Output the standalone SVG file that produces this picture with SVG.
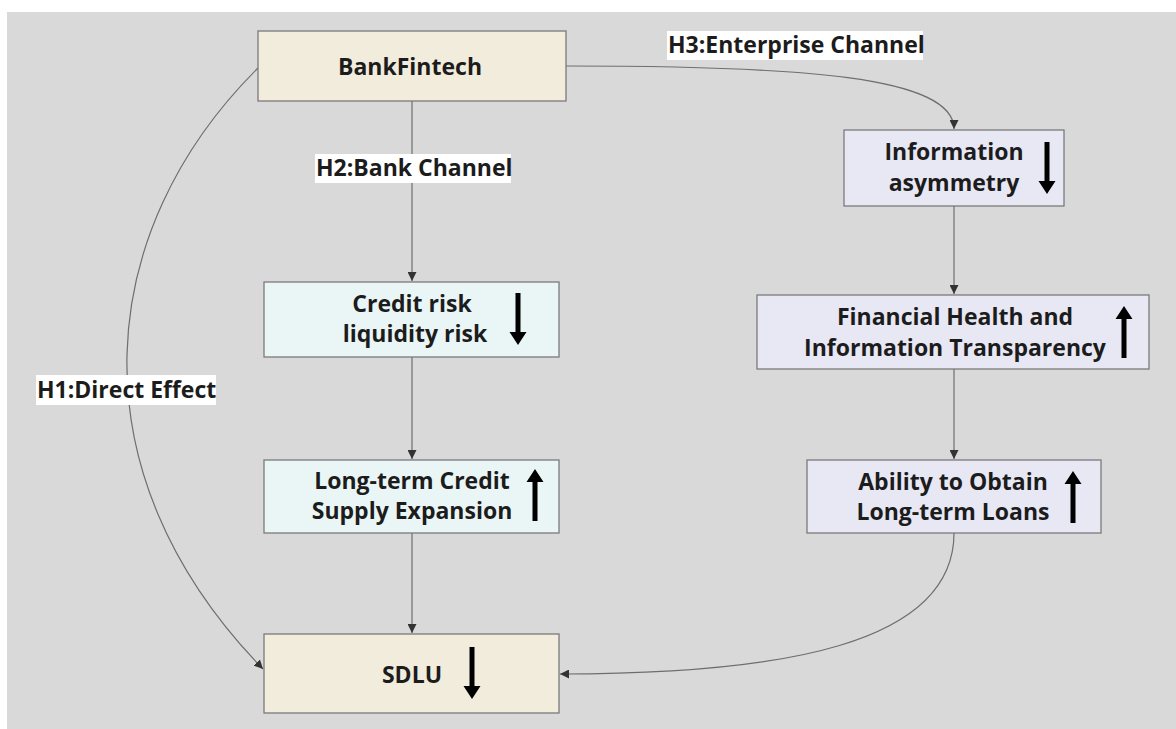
<svg xmlns="http://www.w3.org/2000/svg" width="1176" height="729" viewBox="0 0 1176 729">
  <style>
    .box { stroke: #7a7a7a; stroke-width: 1.3; }
    .beige { fill: #f2ecdc; }
    .cyan { fill: #eaf6f6; }
    .lav { fill: #e8e8f5; }
    .t { font-family: "Open Sans", "Noto Sans", "Liberation Sans", sans-serif; font-weight: 700; font-size: 23px; fill: #1c1c1c; text-anchor: middle; }
    .lbl { font-family: "Open Sans", "Noto Sans", "Liberation Sans", sans-serif; font-weight: 700; font-size: 23px; fill: #1c1c1c; }
    .edge { fill: none; stroke: #6e6e6e; stroke-width: 1.2; }
    .trend { fill: #000; }
  </style>
  <defs>
    <marker id="ah" viewBox="0 0 10 10" refX="10" refY="5" markerWidth="9" markerHeight="9" markerUnits="userSpaceOnUse" orient="auto">
      <path d="M0,0 L10,5 L0,10 z" fill="#333"/>
    </marker>
    <!-- thick trend arrows used inside the boxes -->
    <path id="down" d="M-2.5,-26 H2.5 V13 H8.5 L0,26 L-8.5,13 H-2.5 Z"/>
    <path id="up" d="M-2.5,26 H2.5 V-13 H8.5 L0,-26 L-8.5,-13 H-2.5 Z"/>
  </defs>

  <rect x="0" y="0" width="1176" height="729" fill="#ffffff"/>
  <rect x="7" y="12" width="1169" height="717" fill="#d9d9d9"/>

  <g id="connectors">
    <!-- H1 direct effect -->
    <path class="edge" d="M258,68 C95,230 70,470 263,669" marker-end="url(#ah)"/>
    <!-- H2 bank channel -->
    <path class="edge" d="M412,101 L412,281" marker-end="url(#ah)"/>
    <path class="edge" d="M412,357 L412,459" marker-end="url(#ah)"/>
    <path class="edge" d="M412,533 L412,633" marker-end="url(#ah)"/>
    <!-- H3 enterprise channel -->
    <path class="edge" d="M566,66 C800,66 954,76 954,129" marker-end="url(#ah)"/>
    <path class="edge" d="M954,206 L954,294" marker-end="url(#ah)"/>
    <path class="edge" d="M954,369 L954,459" marker-end="url(#ah)"/>
    <path class="edge" d="M954,533 C954,645 780,674 560,674" marker-end="url(#ah)"/>
  </g>

  <g id="label-h3">
    <rect x="667" y="31" width="256" height="29" fill="#fff"/>
    <text class="lbl" x="668" y="53">H3:Enterprise Channel</text>
  </g>
  <g id="label-h2">
    <rect x="315" y="154" width="196" height="29" fill="#fff"/>
    <text class="lbl" x="316" y="176">H2:Bank Channel</text>
  </g>
  <g id="label-h1">
    <rect x="36" y="375" width="180" height="30" fill="#fff"/>
    <text class="lbl" x="37" y="398">H1:Direct Effect</text>
  </g>

  <g id="bankfintech">
    <rect class="box beige" x="258" y="31" width="308" height="70"/>
    <text class="t" x="410" y="75">BankFintech</text>
  </g>

  <g id="credit-risk">
    <rect class="box cyan" x="264" y="282" width="295" height="75"/>
    <text class="t" x="412" y="312">Credit risk</text>
    <text class="t" x="415" y="342">liquidity risk</text>
    <use href="#down" class="trend" x="518" y="319"/>
  </g>

  <g id="credit-supply">
    <rect class="box cyan" x="264" y="460" width="295" height="73"/>
    <text class="t" x="412" y="489">Long-term Credit</text>
    <text class="t" x="412" y="519">Supply Expansion</text>
    <use href="#up" class="trend" x="535" y="495"/>
  </g>

  <g id="sdlu">
    <rect class="box beige" x="264" y="634" width="295" height="79"/>
    <text class="t" x="412" y="683">SDLU</text>
    <use href="#down" class="trend" x="472" y="673"/>
  </g>

  <g id="info-asymmetry">
    <rect class="box lav" x="844" y="130" width="220" height="76"/>
    <text class="t" x="954" y="160">Information</text>
    <text class="t" x="954" y="191">asymmetry</text>
    <use href="#down" class="trend" x="1047" y="168"/>
  </g>

  <g id="financial-health">
    <rect class="box lav" x="757" y="295" width="392" height="74"/>
    <text class="t" x="955" y="325">Financial Health and</text>
    <text class="t" x="955" y="356">Information Transparency</text>
    <use href="#up" class="trend" x="1124" y="332"/>
  </g>

  <g id="long-term-loans">
    <rect class="box lav" x="807" y="460" width="294" height="73"/>
    <text class="t" x="953" y="490">Ability to Obtain</text>
    <text class="t" x="953" y="520">Long-term Loans</text>
    <use href="#up" class="trend" x="1073" y="497"/>
  </g>
</svg>
